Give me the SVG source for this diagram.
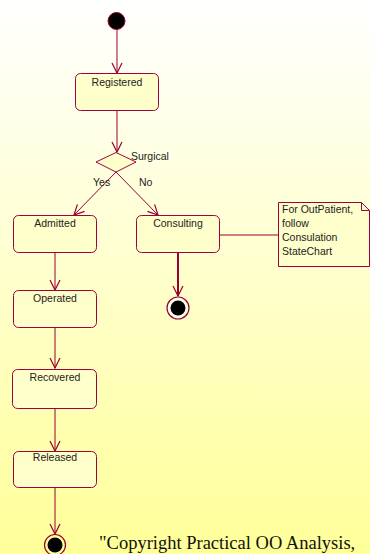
<svg xmlns="http://www.w3.org/2000/svg" width="370" height="554" viewBox="0 0 370 554">
  <defs>
    <linearGradient id="bg" x1="0" y1="0" x2="0" y2="1">
      <stop offset="0" stop-color="#ffffff"/>
      <stop offset="0.3" stop-color="#ffffe0"/>
      <stop offset="1" stop-color="#ffff99"/>
    </linearGradient>
    <marker id="open" viewBox="0 0 12 12" refX="11" refY="6" markerWidth="12" markerHeight="12" markerUnits="userSpaceOnUse" orient="auto">
      <path d="M1,1 L11,6 L1,11" fill="none" stroke="#990033" stroke-width="1.2"/>
    </marker>
    <style>
      .state { fill: #ffffcc; stroke: #a00040; stroke-width: 1; }
      .lbl { font-family: "Liberation Sans", Arial, sans-serif; font-size: 10.5px; fill: #222; text-anchor: middle; }
      .small { font-family: "Liberation Sans", Arial, sans-serif; font-size: 10.5px; fill: #222; }
      .edge { fill: none; stroke: #990033; stroke-width: 1; }
      .note { fill: #ffffcc; stroke: #a00040; stroke-width: 1; }
    </style>
  </defs>
  <rect width="370" height="554" fill="url(#bg)"/>

  <!-- connectors -->
  <g id="connectors">
    <path class="edge" d="M117,30 L117,73" marker-end="url(#open)"/>
    <path class="edge" d="M117,110 L117,152" marker-end="url(#open)"/>
    <path class="edge" d="M116,172 L74,215" marker-end="url(#open)"/>
    <path class="edge" d="M116,172 L158,215" marker-end="url(#open)"/>
    <path class="edge" d="M55,252 L55,290" marker-end="url(#open)"/>
    <path class="edge" d="M55,327 L55,368" marker-end="url(#open)"/>
    <path class="edge" d="M55,408 L55,451" marker-end="url(#open)"/>
    <path class="edge" d="M55,487 L55,534" marker-end="url(#open)"/>
    <path class="edge" style="stroke-width:2" d="M178,252 L178,296" marker-end="url(#open)"/>
    <path class="edge" d="M219,235 L278,235"/>
    <text class="small" x="93" y="186">Yes</text>
    <text class="small" x="139" y="186">No</text>
  </g>

  <g id="start">
    <circle cx="116.5" cy="21" r="8.5" fill="#000" stroke="#990033" stroke-width="1"/>
  </g>

  <g id="registered">
    <rect class="state" x="75.5" y="73.5" width="83" height="37" rx="5"/>
    <text class="lbl" x="117" y="86">Registered</text>
  </g>

  <g id="surgical">
    <polygon points="116,152.5 136,162 116,172 96,162" fill="#ffffcc" stroke="#a00040"/>
    <text class="small" x="131" y="160">Surgical</text>
  </g>

  <g id="admitted">
    <rect class="state" x="13.5" y="215.5" width="83" height="37" rx="5"/>
    <text class="lbl" x="55" y="227">Admitted</text>
  </g>

  <g id="consulting">
    <rect class="state" x="136.5" y="215.5" width="83" height="37" rx="5"/>
    <text class="lbl" x="178" y="227">Consulting</text>
  </g>

  <g id="note">
    <path class="note" d="M278.5,202.5 L361.5,202.5 L369.5,210.5 L369.5,266.5 L278.5,266.5 Z"/>
    <path fill="none" stroke="#a00040" d="M361.5,202.5 L361.5,210.5 L369.5,210.5"/>
    <text class="small" x="282" y="213">For OutPatient,</text>
    <text class="small" x="282" y="227">follow</text>
    <text class="small" x="282" y="241">Consulation</text>
    <text class="small" x="282" y="255">StateChart</text>
  </g>

  <g id="consulting-end">
    <circle cx="178" cy="308" r="11" fill="#fffff0" stroke="#990033" stroke-width="1.2"/>
    <circle cx="178" cy="308" r="7.5" fill="#000"/>
  </g>

  <g id="operated">
    <rect class="state" x="13.5" y="290.5" width="83" height="37" rx="5"/>
    <text class="lbl" x="55" y="302">Operated</text>
  </g>

  <g id="recovered">
    <rect class="state" x="12.5" y="369.5" width="84" height="39" rx="5"/>
    <text class="lbl" x="55" y="381">Recovered</text>
  </g>

  <g id="released">
    <rect class="state" x="13.5" y="451.5" width="83" height="36" rx="5"/>
    <text class="lbl" x="55" y="461">Released</text>
  </g>

  <g id="final">
    <circle cx="55" cy="545" r="10.5" fill="#ffff99" stroke="#990033" stroke-width="1.2"/>
    <circle cx="55" cy="545" r="7.5" fill="#000"/>
  </g>

  <text x="99" y="549" font-family="Liberation Serif, Times New Roman, serif" font-size="18.5" fill="#111">"Copyright Practical OO Analysis,</text>
</svg>
